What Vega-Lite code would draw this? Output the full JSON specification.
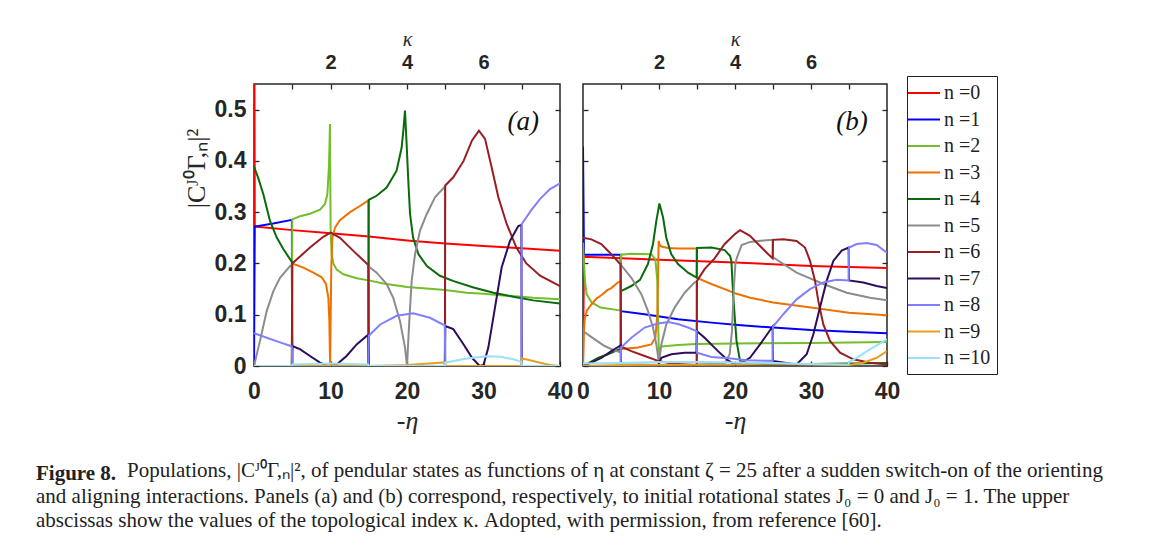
{
"$schema": "https://vega.github.io/schema/vega-lite/v6.json",
"background": "white",
"padding": {"left": 36, "top": 28, "right": 5, "bottom": 5},
"config": {
  "view": {"stroke": "#262626", "strokeWidth": 1.5},
  "axis": {"grid": false, "domain": false, "tickColor": "#262626", "tickSize": -5, "tickWidth": 1.3, "labelColor": "#262626", "labelFont": "Liberation Sans", "labelFontWeight": "bold", "labelFontSize": 23, "labelFlush": false, "labelOverlap": false, "titleColor": "#262626", "titleFont": "Liberation Serif", "titleFontWeight": "normal"},
  "legend": {"labelFont": "Liberation Serif"},
  "line": {"strokeWidth": 2}
},
"datasets": {
"a": [
{"eta":0,"n":0,"p":1},{"eta":0.1,"n":0,"p":0.272},{"eta":5,"n":0,"p":0.265},{"eta":10,"n":0,"p":0.259},{"eta":15,"n":0,"p":0.2526},{"eta":20,"n":0,"p":0.245},{"eta":25,"n":0,"p":0.239},{"eta":30,"n":0,"p":0.234},{"eta":35,"n":0,"p":0.2295},{"eta":40,"n":0,"p":0.2246},
{"eta":0,"n":1,"p":0},{"eta":0.1,"n":1,"p":0.272},{"eta":2.5,"n":1,"p":0.278},{"eta":4.95,"n":1,"p":0.285},{"eta":5,"n":1,"p":0},{"eta":40,"n":1,"p":0},
{"eta":0,"n":2,"p":0},{"eta":4.95,"n":2,"p":0},{"eta":5,"n":2,"p":0.286},{"eta":6.01,"n":2,"p":0.292},{"eta":7.32,"n":2,"p":0.297},{"eta":8.63,"n":2,"p":0.305},{"eta":9.28,"n":2,"p":0.316},{"eta":9.59,"n":2,"p":0.335},{"eta":9.8,"n":2,"p":0.39},{"eta":9.88,"n":2,"p":0.44},{"eta":9.93,"n":2,"p":0.472},{"eta":9.98,"n":2,"p":0.35},{"eta":10.02,"n":2,"p":0.264},{"eta":10.15,"n":2,"p":0.218},{"eta":10.37,"n":2,"p":0.2},{"eta":10.81,"n":2,"p":0.188},{"eta":11.68,"n":2,"p":0.179},{"eta":13.42,"n":2,"p":0.171},{"eta":15,"n":2,"p":0.167},{"eta":16.9,"n":2,"p":0.161},{"eta":20,"n":2,"p":0.154},{"eta":23.4,"n":2,"p":0.15},{"eta":25,"n":2,"p":0.148},{"eta":27.8,"n":2,"p":0.143},{"eta":30,"n":2,"p":0.141},{"eta":32.2,"n":2,"p":0.138},{"eta":35,"n":2,"p":0.135},{"eta":36.5,"n":2,"p":0.133},{"eta":40,"n":2,"p":0.13},
{"eta":0,"n":3,"p":0},{"eta":4.95,"n":3,"p":0},{"eta":5,"n":3,"p":0.2},{"eta":6.45,"n":3,"p":0.192},{"eta":7.76,"n":3,"p":0.182},{"eta":8.85,"n":3,"p":0.173},{"eta":9.41,"n":3,"p":0.16},{"eta":9.72,"n":3,"p":0.133},{"eta":9.85,"n":3,"p":0.088},{"eta":9.95,"n":3,"p":0.002},{"eta":10.03,"n":3,"p":0.1},{"eta":10.1,"n":3,"p":0.19},{"eta":10.24,"n":3,"p":0.25},{"eta":10.6,"n":3,"p":0.27},{"eta":11.2,"n":3,"p":0.284},{"eta":12.55,"n":3,"p":0.3},{"eta":13.9,"n":3,"p":0.3125},{"eta":14.95,"n":3,"p":0.323},{"eta":15,"n":3,"p":0},{"eta":40,"n":3,"p":0},
{"eta":0,"n":4,"p":0.389},{"eta":0.57,"n":4,"p":0.366},{"eta":1.22,"n":4,"p":0.335},{"eta":2.09,"n":4,"p":0.283},{"eta":2.96,"n":4,"p":0.251},{"eta":3.83,"n":4,"p":0.228},{"eta":4.95,"n":4,"p":0.203},{"eta":5,"n":4,"p":0},{"eta":14.95,"n":4,"p":0},{"eta":15,"n":4,"p":0.324},{"eta":16.03,"n":4,"p":0.332},{"eta":17.34,"n":4,"p":0.348},{"eta":18.64,"n":4,"p":0.381},{"eta":19.3,"n":4,"p":0.426},{"eta":19.52,"n":4,"p":0.459},{"eta":19.74,"n":4,"p":0.498},{"eta":19.96,"n":4,"p":0.43},{"eta":20.17,"n":4,"p":0.361},{"eta":20.4,"n":4,"p":0.296},{"eta":20.8,"n":4,"p":0.25},{"eta":21.5,"n":4,"p":0.218},{"eta":22.6,"n":4,"p":0.195},{"eta":24.3,"n":4,"p":0.176},{"eta":26,"n":4,"p":0.166},{"eta":28.7,"n":4,"p":0.153},{"eta":31.3,"n":4,"p":0.143},{"eta":33.9,"n":4,"p":0.135},{"eta":36.5,"n":4,"p":0.128},{"eta":40,"n":4,"p":0.122},
{"eta":0,"n":5,"p":0},{"eta":0.78,"n":5,"p":0.049},{"eta":1.66,"n":5,"p":0.107},{"eta":2.53,"n":5,"p":0.146},{"eta":3.4,"n":5,"p":0.172},{"eta":4.71,"n":5,"p":0.195},{"eta":4.95,"n":5,"p":0.197},{"eta":5,"n":5,"p":0},{"eta":14.95,"n":5,"p":0},{"eta":15,"n":5,"p":0.194},{"eta":16.03,"n":5,"p":0.182},{"eta":17.34,"n":5,"p":0.16},{"eta":18.2,"n":5,"p":0.133},{"eta":19.08,"n":5,"p":0.088},{"eta":19.74,"n":5,"p":0.036},{"eta":20,"n":5,"p":0},{"eta":20.3,"n":5,"p":0.088},{"eta":20.61,"n":5,"p":0.166},{"eta":21.05,"n":5,"p":0.218},{"eta":21.7,"n":5,"p":0.264},{"eta":22.57,"n":5,"p":0.296},{"eta":23.66,"n":5,"p":0.329},{"eta":24.95,"n":5,"p":0.35},{"eta":25,"n":5,"p":0},{"eta":40,"n":5,"p":0},
{"eta":0,"n":6,"p":0},{"eta":4.95,"n":6,"p":0},{"eta":5,"n":6,"p":0.2},{"eta":7.32,"n":6,"p":0.231},{"eta":9.06,"n":6,"p":0.252},{"eta":10.02,"n":6,"p":0.26},{"eta":11.24,"n":6,"p":0.25},{"eta":12.98,"n":6,"p":0.2246},{"eta":14.73,"n":6,"p":0.2},{"eta":14.95,"n":6,"p":0.197},{"eta":15,"n":6,"p":0},{"eta":24.95,"n":6,"p":0},{"eta":25,"n":6,"p":0.352},{"eta":26.05,"n":6,"p":0.368},{"eta":27.4,"n":6,"p":0.4},{"eta":28.5,"n":6,"p":0.44},{"eta":29.4,"n":6,"p":0.459},{"eta":30.2,"n":6,"p":0.443},{"eta":31.07,"n":6,"p":0.387},{"eta":31.94,"n":6,"p":0.329},{"eta":33.03,"n":6,"p":0.277},{"eta":34.3,"n":6,"p":0.231},{"eta":35.6,"n":6,"p":0.2},{"eta":37.4,"n":6,"p":0.176},{"eta":40,"n":6,"p":0.156},
{"eta":0,"n":7,"p":0},{"eta":4.95,"n":7,"p":0},{"eta":5,"n":7,"p":0.039},{"eta":6,"n":7,"p":0.033},{"eta":7.32,"n":7,"p":0.0195},{"eta":8.63,"n":7,"p":0.0065},{"eta":9.7,"n":7,"p":0},{"eta":10.8,"n":7,"p":0.003},{"eta":12.1,"n":7,"p":0.0195},{"eta":13.42,"n":7,"p":0.042},{"eta":14.73,"n":7,"p":0.0586},{"eta":14.95,"n":7,"p":0.06},{"eta":15,"n":7,"p":0},{"eta":24.95,"n":7,"p":0},{"eta":25,"n":7,"p":0.078},{"eta":26.05,"n":7,"p":0.072},{"eta":27.4,"n":7,"p":0.042},{"eta":28.5,"n":7,"p":0.016},{"eta":29.5,"n":7,"p":0},{"eta":30,"n":7,"p":0.002},{"eta":30.63,"n":7,"p":0.036},{"eta":31.5,"n":7,"p":0.114},{"eta":32.37,"n":7,"p":0.192},{"eta":33.46,"n":7,"p":0.244},{"eta":34.55,"n":7,"p":0.273},{"eta":34.95,"n":7,"p":0.275},{"eta":35,"n":7,"p":0},{"eta":40,"n":7,"p":0},
{"eta":0,"n":8,"p":0.064},{"eta":1.66,"n":8,"p":0.055},{"eta":3.4,"n":8,"p":0.046},{"eta":4.8,"n":8,"p":0.039},{"eta":4.95,"n":8,"p":0.038},{"eta":5,"n":8,"p":0},{"eta":14.95,"n":8,"p":0},{"eta":15,"n":8,"p":0.059},{"eta":16.5,"n":8,"p":0.081},{"eta":18.65,"n":8,"p":0.098},{"eta":20.8,"n":8,"p":0.103},{"eta":23,"n":8,"p":0.094},{"eta":24.7,"n":8,"p":0.081},{"eta":24.95,"n":8,"p":0.08},{"eta":25,"n":8,"p":0},{"eta":34.95,"n":8,"p":0},{"eta":35,"n":8,"p":0.277},{"eta":36.2,"n":8,"p":0.303},{"eta":37.4,"n":8,"p":0.326},{"eta":38.7,"n":8,"p":0.345},{"eta":40,"n":8,"p":0.356},
{"eta":0,"n":9,"p":0},{"eta":15,"n":9,"p":0},{"eta":20,"n":9,"p":0.002},{"eta":24.95,"n":9,"p":0.007},{"eta":25,"n":9,"p":0},{"eta":34.95,"n":9,"p":0},{"eta":35,"n":9,"p":0.015},{"eta":37.4,"n":9,"p":0.0065},{"eta":38.7,"n":9,"p":0.002},{"eta":40,"n":9,"p":0},
{"eta":0,"n":10,"p":0},{"eta":4.95,"n":10,"p":0},{"eta":5,"n":10,"p":0.003},{"eta":10,"n":10,"p":0.005},{"eta":14.95,"n":10,"p":0.003},{"eta":15,"n":10,"p":0},{"eta":24.95,"n":10,"p":0},{"eta":25,"n":10,"p":0.0065},{"eta":27.8,"n":10,"p":0.0145},{"eta":30.4,"n":10,"p":0.019},{"eta":32.2,"n":10,"p":0.018},{"eta":33.9,"n":10,"p":0.013},{"eta":34.95,"n":10,"p":0.008},{"eta":35,"n":10,"p":0},{"eta":40,"n":10,"p":0}
],
"b": [
{"eta":0,"n":0,"p":0},{"eta":0.13,"n":0,"p":0.213},{"eta":10,"n":0,"p":0.207},{"eta":20,"n":0,"p":0.2018},{"eta":30,"n":0,"p":0.195},{"eta":40,"n":0,"p":0.191},
{"eta":0,"n":1,"p":0.428},{"eta":0.13,"n":1,"p":0.217},{"eta":4.95,"n":1,"p":0.217},{"eta":5,"n":1,"p":0.107},{"eta":8.1,"n":1,"p":0.101},{"eta":12.5,"n":1,"p":0.091},{"eta":16.9,"n":1,"p":0.0846},{"eta":20.4,"n":1,"p":0.08},{"eta":25,"n":1,"p":0.075},{"eta":30,"n":1,"p":0.07},{"eta":35,"n":1,"p":0.067},{"eta":40,"n":1,"p":0.064},
{"eta":0,"n":2,"p":0.241},{"eta":0.13,"n":2,"p":0.2},{"eta":0.3,"n":2,"p":0.16},{"eta":0.48,"n":2,"p":0.14},{"eta":1.14,"n":2,"p":0.124},{"eta":2.3,"n":2,"p":0.114},{"eta":4.61,"n":2,"p":0.109},{"eta":4.95,"n":2,"p":0.108},{"eta":5,"n":2,"p":0.217},{"eta":6.36,"n":2,"p":0.219},{"eta":8.99,"n":2,"p":0.218},{"eta":9.52,"n":2,"p":0.208},{"eta":9.78,"n":2,"p":0.166},{"eta":9.91,"n":2,"p":0.068},{"eta":10,"n":2,"p":0.02},{"eta":10.09,"n":2,"p":0.034},{"eta":10.31,"n":2,"p":0.038},{"eta":12.5,"n":2,"p":0.041},{"eta":14.91,"n":2,"p":0.043},{"eta":20,"n":2,"p":0.044},{"eta":30,"n":2,"p":0.045},{"eta":40,"n":2,"p":0.047},
{"eta":0,"n":3,"p":0},{"eta":0.1,"n":3,"p":0.06},{"eta":0.22,"n":3,"p":0.09},{"eta":0.5,"n":3,"p":0.108},{"eta":1.1,"n":3,"p":0.12},{"eta":1.8,"n":3,"p":0.132},{"eta":2.41,"n":3,"p":0.138},{"eta":3.2,"n":3,"p":0.148},{"eta":3.73,"n":3,"p":0.152},{"eta":4.5,"n":3,"p":0.162},{"eta":4.95,"n":3,"p":0.166},{"eta":5,"n":3,"p":0.033},{"eta":7.24,"n":3,"p":0.036},{"eta":8.99,"n":3,"p":0.042},{"eta":9.52,"n":3,"p":0.055},{"eta":9.78,"n":3,"p":0.1},{"eta":9.9,"n":3,"p":0.2},{"eta":9.96,"n":3,"p":0.244},{"eta":10.1,"n":3,"p":0.236},{"eta":10.31,"n":3,"p":0.233},{"eta":11.18,"n":3,"p":0.23},{"eta":12.5,"n":3,"p":0.229},{"eta":14.95,"n":3,"p":0.229},{"eta":15,"n":3,"p":0.172},{"eta":16.89,"n":3,"p":0.16},{"eta":18.64,"n":3,"p":0.15},{"eta":20,"n":3,"p":0.142},{"eta":22,"n":3,"p":0.133},{"eta":25,"n":3,"p":0.124},{"eta":30,"n":3,"p":0.114},{"eta":35,"n":3,"p":0.104},{"eta":40,"n":3,"p":0.099},
{"eta":0,"n":4,"p":0},{"eta":0.66,"n":4,"p":0.005},{"eta":1.97,"n":4,"p":0.016},{"eta":3.29,"n":4,"p":0.023},{"eta":4.82,"n":4,"p":0.033},{"eta":4.95,"n":4,"p":0.034},{"eta":5,"n":4,"p":0.146},{"eta":6.36,"n":4,"p":0.156},{"eta":7.5,"n":4,"p":0.168},{"eta":8.55,"n":4,"p":0.199},{"eta":9.21,"n":4,"p":0.238},{"eta":9.65,"n":4,"p":0.283},{"eta":10.05,"n":4,"p":0.317},{"eta":10.53,"n":4,"p":0.29},{"eta":10.96,"n":4,"p":0.25},{"eta":11.62,"n":4,"p":0.218},{"eta":12.5,"n":4,"p":0.199},{"eta":13.82,"n":4,"p":0.182},{"eta":14.95,"n":4,"p":0.1725},{"eta":15,"n":4,"p":0.23},{"eta":16.89,"n":4,"p":0.231},{"eta":18.64,"n":4,"p":0.226},{"eta":19.34,"n":4,"p":0.215},{"eta":19.52,"n":4,"p":0.205},{"eta":19.78,"n":4,"p":0.133},{"eta":20.2,"n":4,"p":0.049},{"eta":20.66,"n":4,"p":0.01},{"eta":22,"n":4,"p":0.004},{"eta":30,"n":4,"p":0.004},{"eta":40,"n":4,"p":0.006},
{"eta":0,"n":5,"p":0.068},{"eta":1.54,"n":5,"p":0.052},{"eta":2.85,"n":5,"p":0.039},{"eta":4.17,"n":5,"p":0.03},{"eta":4.95,"n":5,"p":0.027},{"eta":5,"n":5,"p":0.197},{"eta":6.36,"n":5,"p":0.172},{"eta":7.68,"n":5,"p":0.14},{"eta":8.55,"n":5,"p":0.107},{"eta":9.21,"n":5,"p":0.075},{"eta":9.65,"n":5,"p":0.042},{"eta":10,"n":5,"p":0.006},{"eta":10.31,"n":5,"p":0.042},{"eta":10.96,"n":5,"p":0.081},{"eta":12.06,"n":5,"p":0.114},{"eta":13.38,"n":5,"p":0.143},{"eta":14.7,"n":5,"p":0.163},{"eta":14.95,"n":5,"p":0.165},{"eta":15,"n":5,"p":0.003},{"eta":18.64,"n":5,"p":0.005},{"eta":19.3,"n":5,"p":0.023},{"eta":19.6,"n":5,"p":0.068},{"eta":19.8,"n":5,"p":0.14},{"eta":20.05,"n":5,"p":0.2},{"eta":20.22,"n":5,"p":0.21},{"eta":20.88,"n":5,"p":0.236},{"eta":21.97,"n":5,"p":0.242},{"eta":23.73,"n":5,"p":0.245},{"eta":24.95,"n":5,"p":0.246},{"eta":25,"n":5,"p":0.212},{"eta":28.11,"n":5,"p":0.182},{"eta":31.62,"n":5,"p":0.16},{"eta":34.7,"n":5,"p":0.143},{"eta":37.76,"n":5,"p":0.133},{"eta":40,"n":5,"p":0.128},
{"eta":0,"n":6,"p":0.25},{"eta":1.1,"n":6,"p":0.247},{"eta":2.41,"n":6,"p":0.238},{"eta":3.73,"n":6,"p":0.218},{"eta":4.82,"n":6,"p":0.2},{"eta":4.95,"n":6,"p":0.199},{"eta":5,"n":6,"p":0.038},{"eta":6.36,"n":6,"p":0.029},{"eta":8.11,"n":6,"p":0.0195},{"eta":9.87,"n":6,"p":0.01},{"eta":11.62,"n":6,"p":0.005},{"eta":14.7,"n":6,"p":0.002},{"eta":14.95,"n":6,"p":0.002},{"eta":15,"n":6,"p":0.166},{"eta":16,"n":6,"p":0.189},{"eta":17.32,"n":6,"p":0.21},{"eta":18.64,"n":6,"p":0.238},{"eta":19.96,"n":6,"p":0.257},{"eta":20.66,"n":6,"p":0.265},{"eta":21.97,"n":6,"p":0.254},{"eta":23.29,"n":6,"p":0.234},{"eta":24.38,"n":6,"p":0.218},{"eta":24.95,"n":6,"p":0.21},{"eta":25,"n":6,"p":0.246},{"eta":26.36,"n":6,"p":0.247},{"eta":28.11,"n":6,"p":0.244},{"eta":29.21,"n":6,"p":0.231},{"eta":29.87,"n":6,"p":0.205},{"eta":30.53,"n":6,"p":0.166},{"eta":30.96,"n":6,"p":0.127},{"eta":31.62,"n":6,"p":0.081},{"eta":32.5,"n":6,"p":0.049},{"eta":33.82,"n":6,"p":0.026},{"eta":35.57,"n":6,"p":0.013},{"eta":37.76,"n":6,"p":0.0065},{"eta":40,"n":6,"p":0.003},
{"eta":0,"n":7,"p":0},{"eta":1.1,"n":7,"p":0.0065},{"eta":2.41,"n":7,"p":0.016},{"eta":3.73,"n":7,"p":0.029},{"eta":4.82,"n":7,"p":0.039},{"eta":4.95,"n":7,"p":0.04},{"eta":5,"n":7,"p":0.003},{"eta":9.9,"n":7,"p":0.002},{"eta":10.31,"n":7,"p":0.016},{"eta":11.62,"n":7,"p":0.023},{"eta":13.38,"n":7,"p":0.026},{"eta":14.95,"n":7,"p":0.026},{"eta":15,"n":7,"p":0.068},{"eta":16,"n":7,"p":0.055},{"eta":17.76,"n":7,"p":0.029},{"eta":19.08,"n":7,"p":0.011},{"eta":19.96,"n":7,"p":0.003},{"eta":20.66,"n":7,"p":0.0046},{"eta":21.97,"n":7,"p":0.016},{"eta":23.29,"n":7,"p":0.042},{"eta":24.95,"n":7,"p":0.077},{"eta":25,"n":7,"p":0.01},{"eta":28.11,"n":7,"p":0.003},{"eta":29.43,"n":7,"p":0.023},{"eta":30.31,"n":7,"p":0.062},{"eta":31.18,"n":7,"p":0.114},{"eta":32.06,"n":7,"p":0.166},{"eta":32.94,"n":7,"p":0.205},{"eta":34.04,"n":7,"p":0.225},{"eta":34.95,"n":7,"p":0.231},{"eta":35,"n":7,"p":0.167},{"eta":36.89,"n":7,"p":0.163},{"eta":38.64,"n":7,"p":0.156},{"eta":40,"n":7,"p":0.152},
{"eta":0,"n":8,"p":0},{"eta":4.95,"n":8,"p":0},{"eta":5,"n":8,"p":0.036},{"eta":6.36,"n":8,"p":0.055},{"eta":8.11,"n":8,"p":0.075},{"eta":9.87,"n":8,"p":0.083},{"eta":11.18,"n":8,"p":0.086},{"eta":12.5,"n":8,"p":0.082},{"eta":13.82,"n":8,"p":0.075},{"eta":14.95,"n":8,"p":0.068},{"eta":15,"n":8,"p":0.026},{"eta":16.9,"n":8,"p":0.0176},{"eta":19.2,"n":8,"p":0.015},{"eta":21.5,"n":8,"p":0.011},{"eta":24.95,"n":8,"p":0.01},{"eta":25,"n":8,"p":0.077},{"eta":26.36,"n":8,"p":0.101},{"eta":28.11,"n":8,"p":0.13},{"eta":29.87,"n":8,"p":0.15},{"eta":31.62,"n":8,"p":0.163},{"eta":33.38,"n":8,"p":0.168},{"eta":34.95,"n":8,"p":0.167},{"eta":35,"n":8,"p":0.231},{"eta":36.01,"n":8,"p":0.238},{"eta":37.32,"n":8,"p":0.24},{"eta":38.64,"n":8,"p":0.236},{"eta":40,"n":8,"p":0.221},
{"eta":0,"n":9,"p":0},{"eta":5,"n":9,"p":0.002},{"eta":20,"n":9,"p":0.003},{"eta":25,"n":9,"p":0.005},{"eta":30,"n":9,"p":0.003},{"eta":35,"n":9,"p":0.002},{"eta":36.89,"n":9,"p":0.0065},{"eta":38.64,"n":9,"p":0.016},{"eta":40,"n":9,"p":0.029},
{"eta":0,"n":10,"p":0.005},{"eta":5,"n":10,"p":0.006},{"eta":10,"n":10,"p":0.008},{"eta":15,"n":10,"p":0.008},{"eta":20,"n":10,"p":0.007},{"eta":25,"n":10,"p":0.006},{"eta":30,"n":10,"p":0.004},{"eta":34.95,"n":10,"p":0.003},{"eta":35,"n":10,"p":0.008},{"eta":36,"n":10,"p":0.016},{"eta":37.8,"n":10,"p":0.033},{"eta":40,"n":10,"p":0.052}
]
},
"title": {
  "text": "Figure 8.",
  "subtitle": ["and aligning interactions. Panels (a) and (b) correspond, respectively, to initial rotational states J₀ = 0 and J₀ = 1. The upper", "abscissas show the values of the topological index κ. Adopted, with permission, from reference [60]."],
  "orient": "bottom", "anchor": "start", "frame": "group",
  "font": "Liberation Serif", "fontSize": 21, "fontWeight": "bold", "color": "#222",
  "subtitleFont": "Liberation Serif", "subtitleFontSize": 21, "subtitleColor": "#222", "subtitleLineHeight": 24.5, "subtitlePadding": 2,
  "offset": 6, "dy": -24, "dx": -218
},
"vconcat": [{
  "title": {
    "text": "Populations, |Cᴶ⁰Γ,ₙ|², of pendular states as functions of η at constant ζ = 25 after a sudden switch-on of the orienting",
    "orient": "bottom", "anchor": "start", "frame": "group",
    "font": "Liberation Serif", "fontSize": 21, "fontWeight": "normal", "color": "#222",
    "offset": 26, "dx": -127
  },
  "spacing": 1,
  "resolve": {"scale": {"color": "independent"}},
  "hconcat": [
  {
    "width": 306, "height": 282,
    "data": {"name": "a"},
    "layer": [
      {"mark": {"type": "line", "strokeWidth": 2, "clip": true},
       "encoding": {
         "x": {"field": "eta", "type": "quantitative", "scale": {"domain": [0, 40], "nice": false, "zero": false}, "axis": {"orient": "bottom", "values": [0, 10, 20, 30, 40], "title": "-η", "titleFontStyle": "italic", "titleFontSize": 26, "labelPadding": 19, "titlePadding": 4}},
         "y": {"field": "p", "type": "quantitative", "scale": {"domain": [0, 0.55], "nice": false}, "axis": {"orient": "left", "values": [0, 0.1, 0.2, 0.3, 0.4, 0.5], "format": "~g", "title": "|Cᴶ⁰Γ,ₙ|²", "titleFontSize": 26, "labelPadding": 13, "titlePadding": 5, "titleY": 84}},
         "color": {"field": "n", "type": "nominal", "scale": {"domain": [0,1,2,3,4,5,6,7,8,9,10], "range": ["#FF0000","#0000FF","#72BF2B","#EE7100","#0A6B0A","#8C8C8C","#991E22","#2E0D5C","#8080FF","#E8A020","#99E0FF"]}, "legend": null}
       }},
      {"mark": {"type": "line", "opacity": 0, "clip": true},
       "encoding": {
         "x": {"field": "eta", "type": "quantitative", "axis": {"orient": "top", "values": [5, 10, 15, 20, 25, 30, 35], "labelExpr": "datum.value % 10 === 0 ? datum.value / 5 : ''", "title": "κ", "titleFontStyle": "italic", "titleFontSize": 20, "labelFontSize": 20, "labelPadding": 17, "titlePadding": 3}},
         "y": {"field": "p", "type": "quantitative", "axis": {"orient": "right", "values": [0, 0.1, 0.2, 0.3, 0.4, 0.5], "labels": false, "title": null, "minExtent": 0, "maxExtent": 0}}
       }},
      {"data": {"values": [{}]},
       "mark": {"type": "text", "font": "Liberation Serif", "fontStyle": "italic", "fontSize": 27, "color": "#111", "align": "center", "baseline": "middle"},
       "encoding": {
         "x": {"datum": 35.2, "type": "quantitative", "axis": null},
         "y": {"datum": 0.475, "type": "quantitative", "axis": null},
         "text": {"value": "(a)"}
       }}
    ],
    "resolve": {"axis": {"x": "independent", "y": "independent"}}
  },
  {
    "width": 304, "height": 282,
    "data": {"name": "b"},
    "layer": [
      {"mark": {"type": "line", "strokeWidth": 2, "clip": true},
       "encoding": {
         "x": {"field": "eta", "type": "quantitative", "scale": {"domain": [0, 40], "nice": false, "zero": false}, "axis": {"orient": "bottom", "values": [0, 10, 20, 30, 40], "title": "-η", "titleFontStyle": "italic", "titleFontSize": 26, "labelPadding": 19, "titlePadding": 4}},
         "y": {"field": "p", "type": "quantitative", "scale": {"domain": [0, 0.55], "nice": false}, "axis": {"orient": "left", "values": [0, 0.1, 0.2, 0.3, 0.4, 0.5], "labels": false, "title": null, "minExtent": 0, "maxExtent": 0}},
         "color": {"field": "n", "type": "nominal", "scale": {"domain": [0,1,2,3,4,5,6,7,8,9,10], "range": ["#FF0000","#0000FF","#72BF2B","#EE7100","#0A6B0A","#8C8C8C","#991E22","#2E0D5C","#8080FF","#E8A020","#99E0FF"]},
           "legend": {"orient": "none", "legendX": 324, "legendY": -8, "title": null, "strokeColor": "#222", "padding": 6, "symbolType": "M-1.6,0L1.6,0", "symbolSize": 400, "symbolStrokeWidth": 2, "labelFont": "Liberation Serif", "labelFontSize": 20, "labelColor": "#222", "labelOffset": 9, "rowPadding": 5.5, "labelExpr": "'n =' + datum.label"}}
       }},
      {"mark": {"type": "line", "opacity": 0, "clip": true},
       "encoding": {
         "x": {"field": "eta", "type": "quantitative", "axis": {"orient": "top", "values": [5, 10, 15, 20, 25, 30, 35], "labelExpr": "datum.value % 10 === 0 ? datum.value / 5 : ''", "title": "κ", "titleFontStyle": "italic", "titleFontSize": 20, "labelFontSize": 20, "labelPadding": 17, "titlePadding": 3}},
         "y": {"field": "p", "type": "quantitative", "axis": {"orient": "right", "values": [0, 0.1, 0.2, 0.3, 0.4, 0.5], "labels": false, "title": null, "minExtent": 0, "maxExtent": 0}}
       }},
      {"data": {"values": [{}]},
       "mark": {"type": "text", "font": "Liberation Serif", "fontStyle": "italic", "fontSize": 27, "color": "#111", "align": "center", "baseline": "middle"},
       "encoding": {
         "x": {"datum": 35.4, "type": "quantitative", "axis": null},
         "y": {"datum": 0.475, "type": "quantitative", "axis": null},
         "text": {"value": "(b)"}
       }}
    ],
    "resolve": {"axis": {"x": "independent", "y": "independent"}}
  }
  ]
}]
}
